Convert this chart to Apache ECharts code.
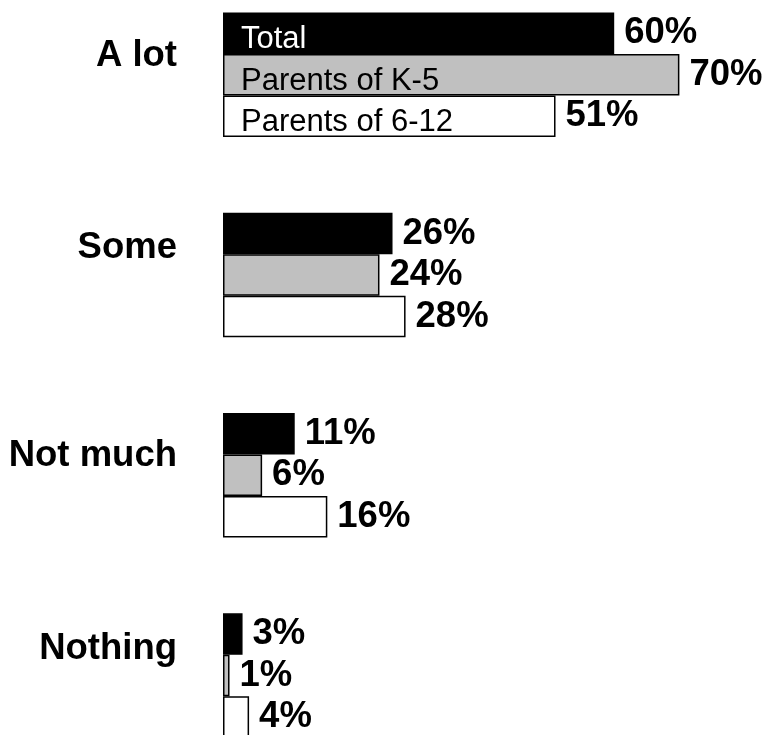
<!DOCTYPE html>
<html>
<head>
<meta charset="utf-8">
<script src="https://cdn.jsdelivr.net/npm/echarts@6/dist/echarts.min.js"></script>
<style>
html,body{margin:0;padding:0;background:#fff;}
#c{width:771px;height:735px;}
</style>
</head>
<body>
<div id="c"></div>
<script>
const categories = ['A lot', 'Some', 'Not much', 'Nothing'];
const seriesNames = ['Total', 'Parents of K-5', 'Parents of 6-12'];
const totalValues = [60, 26, 11, 3];
const k5Values = [70, 24, 6, 1];
const grade612Values = [51, 28, 16, 4];

const FONT = '"Liberation Sans", Arial, Helvetica, sans-serif';
const chart = echarts.init(document.getElementById('c'), null, {renderer: 'canvas'});

const valueLabel = {
  show: true,
  position: 'right',
  distance: 10,
  formatter: '{c}%',
  color: '#000',
  fontFamily: FONT,
  fontWeight: 'bold',
  fontSize: 36.5,
  padding: [4, 0, 0, 0]
};

function barSeries(name, values, fill) {
  return {
    name: name,
    type: 'bar',
    data: values,
    barWidth: 41.5,
    barGap: '0%',
    itemStyle: {color: fill, borderColor: '#000', borderWidth: 1.5},
    label: valueLabel,
    emphasis: {disabled: true}
  };
}

chart.setOption({
  animation: false,
  backgroundColor: '#fff',
  grid: {
    left: 223,
    right: 26.4,
    top: -25.5,
    bottom: -40.7,
    containLabel: false,
    outerBoundsMode: 'none'
  },
  legend: {
    orient: 'vertical',
    left: 236,
    top: 19,
    padding: 0,
    itemGap: 0,
    icon: 'none',
    itemWidth: 0,
    itemHeight: 0,
    selectedMode: false,
    textStyle: {fontFamily: FONT, fontSize: 31, lineHeight: 41.5, color: '#000'},
    data: [
      {name: seriesNames[0], textStyle: {color: '#fff'}},
      {name: seriesNames[1]},
      {name: seriesNames[2]}
    ]
  },
  xAxis: {
    type: 'value',
    min: 0,
    max: 80,
    show: false
  },
  yAxis: {
    type: 'category',
    data: categories,
    inverse: true,
    axisLine: {show: false},
    axisTick: {show: false},
    splitLine: {show: false},
    axisLabel: {
      margin: 46,
      color: '#000',
      fontFamily: FONT,
      fontWeight: 'bold',
      fontSize: 36.5,
      formatter: function (v, i) { return (i % 2 === 0 ? '{a|' : '{b|') + v + '}'; },
      rich: {
        a: {fontFamily: FONT, fontWeight: 'bold', fontSize: 36.5, color: '#000', padding: [0, 0, 38, 0]},
        b: {fontFamily: FONT, fontWeight: 'bold', fontSize: 36.5, color: '#000', padding: [0, 0, 54, 0]}
      }
    }
  },
  series: [
    barSeries(seriesNames[0], totalValues, '#000000'),
    barSeries(seriesNames[1], k5Values, '#C0C0C0'),
    barSeries(seriesNames[2], grade612Values, '#FFFFFF')
  ]
});
</script>
</body>
</html>
